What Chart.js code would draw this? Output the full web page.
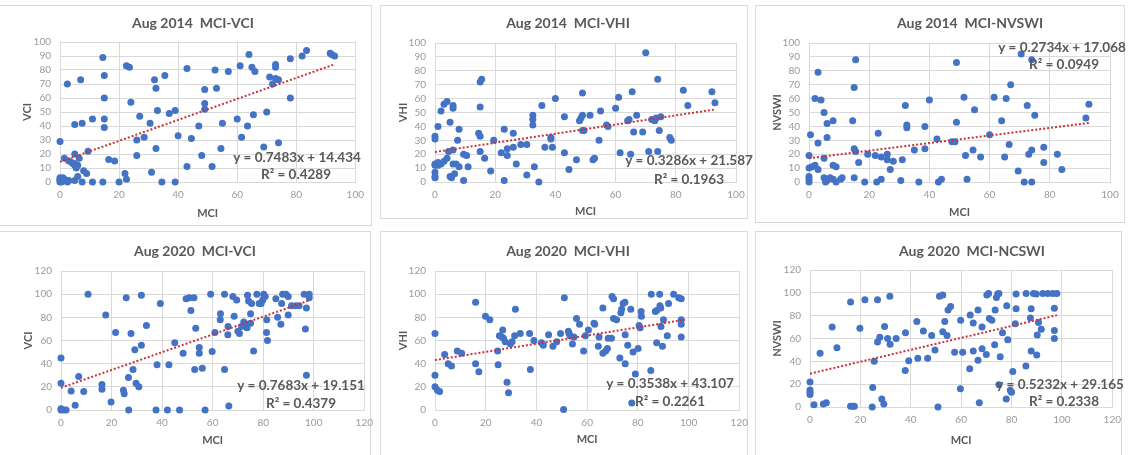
<!DOCTYPE html>
<html>
<head>
<meta charset="utf-8">
<script src="https://cdn.jsdelivr.net/npm/chart.js@4.4.1/dist/chart.umd.min.js"></script>
<style>
  body { margin: 0; background: #fff; }
  #wrap { position: relative; width: 1128px; height: 455px; overflow: hidden; background: #fff; }
  .panel { position: absolute; border: 1px solid #d9d9d9; box-sizing: border-box; }
  #wrap canvas { position: absolute; }
</style>
</head>
<body>
<div id="wrap"></div>
<script>
// MCI vs index pairs
const vci2014 = [[0,29],[0,3],[0,2],[0,1],[0,0],[0.5,0],[1,3],[1.5,2],[2,1],[2.5,0],[3,1],
  [2.5,70],[1.5,17],[3,15],[4,14],[4.5,13],[5,12],[5.5,11],[5,13],[6,12],[5.5,10],
  [5,20],[6.5,17],[5,41],[7.5,42],[7,73],[5,1],[6,4],[7.5,0],[8,8],[9,6],[9.5,22],[11,45],[11,0],
  [14.5,89],[15,45],[15,39],[15,60],[15,76],[14.5,0],[16.5,16],[18.5,15],[20,0],[22,6],[22.5,2],
  [22.5,83],[23.5,82],[24,57],[26,30],[26,19],[27,47],[28.5,32],[30.5,42],[31,7],[32,73],[32.5,67],
  [33,51],[32.5,24],[34.5,0],[35.5,76],[37,49],[39,51],[39,0],[40,33],[43,11],[43,81],[44.5,31],
  [47,40],[48,19],[49,66],[49,56],[49,52],[51.5,11],[52.5,80],[53,67],[54.5,24],[55,42],[57,79],
  [60,45],[61,83],[61.5,32],[63.5,40],[64,91],[65,82],[66,79],[65.5,48],[69,25],[70,50],[71,75],
  [72,70],[73,84],[73,82],[73,74],[74,73],[74,28],[78,88],[78,60],[82,90],[83.5,94],[91.5,92],[92,91],[93,90]];

const vhi2014 = [[0,33],[0,31],[0,13],[0,12],[0,7],[0,4],[0,3],[1,40],[1,14],[1,12],[2,13],[2,51],[3,56],[3,15],[4,17],[4,58],
  [4.5,22],[5,4],[5.5,3],[5,43],[6,23],[6,55],[6,53],[6,13],[7,13],[6.5,6],[7.5,30],[8,11],[8,38],
  [9.5,20],[9.5,1],[10.5,19],[11,11],[14.5,35],[15,33],[15,72],[15.5,74],[15,54],[15,22],[16.5,17],
  [18.5,8],[19.5,30],[22,21],[23,1],[23,38],[24,24],[24,19],[26,35],[26,25],[27,13],[28.5,27],
  [30.5,27],[30.5,5],[32.5,48],[32.5,45],[32.5,41],[33,11],[34.5,0],[35.5,55],[36.5,25],[38.5,32],[38.5,31],[39,25],
  [40,60],[43,47],[43,21],[44.5,9],[47,16],[48,44],[48.5,46],[49,48],[49,64],[49,37],[49.5,37],
  [51.5,48],[52.5,16],[53,17],[55,51],[54.5,30],[57,41],[57.5,40],[60,53],[61,61],[61.5,21],
  [64,44],[64.5,45],[65,20],[65.5,65],[66,36],[67,48],[69,36],[70,93],[71,22],[72,45],[73,44],
  [74,74],[74,22],[73.5,46],[75,47],[74.5,37],[78,32],[78.5,30],[82.5,66],[84,55],[92,65],[93,57]];

const nvswi2014 = [[0,19],[0,4],[0,2],[0,0],[0,10],[0.5,34],[1,11],[2,12],[2,60],[3,79],[3,28],[3,9],
  [4,59],[5,50],[5,3],[5,17],[6,1],[5.5,0],[6,42],[6,32],[7,3],[8,44],[8,12],[8,2],
  [9,11],[9,0],[10.5,2],[11,3],[14.5,44],[15,68],[15.5,88],[15,24],[15.5,22],[15,3],[16.5,14],
  [18.5,0],[19.5,20],[22,19],[22.5,0],[23,35],[24,18],[24,2],[26,20],[26,16],[27,9],[28,15],
  [30.5,1],[31,16],[32,55],[32.5,41],[32.5,39],[35,23],[36.5,0],[38.5,40],[38.5,24],[40,59],
  [42.5,31],[43,0],[44,2],[47.5,29],[48.5,29],[49,43],[49,86],[51.5,61],[52,19],[52.5,2],
  [54.5,23],[55,52],[57,18],[60,34],[61.5,61],[64,44],[65,18],[65.5,60],[66.5,27],[67,70],
  [69.5,8],[70.5,92],[71.5,0],[72.5,55],[73,20],[74,0],[74,23],[75,48],[74,88],[78,25],[78,14],
  [82.5,20],[84,9],[92,46],[93,56]];

const vci2020 = [[0,45],[0,23],[0,0],[1,0],[2,0],[0,1],[4,16.5],[5.6,4],[7,29],[9,16],[10.7,100],[17.7,82],[16.2,22],[16.2,18],
  [21.6,67],[19.8,7],[24.7,17],[25,14],[25.8,97],[26.7,28],[26.8,0],[27.7,66],[28.5,35],[29.2,52],[29.7,23],[30.8,20],
  [31.8,56],[31.8,99],[33.8,73],[38,39],[37.6,0],[39.3,92],[42.7,39],[42.1,0],[45,58],[46.9,0],[48.3,49],
  [49.5,96],[50.8,97],[52.6,97],[51.4,86],[52.9,35],[53.3,70.5],[54.7,54],[54.7,49],[55.9,36],
  [57,0],[59.2,100],[59.8,50.6],[60.9,67],[63,78],[63.1,83],[64.7,35],[64.7,100],[66,65],[66.1,72],[66.4,3.5],
  [68,98],[68.5,81],[69.5,95],[70,68],[70.6,66],[71.5,72],[72.3,76],[73.6,71],[73.7,74],[73.8,99],[74.2,94],
  [75,75],[75,83],[75.4,92],[76.2,51],[77.5,100],[78.4,92],[79.2,92],[79.8,95],[80.2,100],[80.8,98],
  [81.4,78],[81.3,67],[81.7,60],[85,96],[85.7,80],[87,74],[87.3,92],[87.7,100],[89,100],[89.9,98],
  [89.9,82],[91.2,90],[92.9,90],[94.2,90],[96.2,100],[96.7,70],[97.1,30],[97.1,88],[98.2,100],[98.2,97]];

const vhi2020 = [[0,66],[0,30],[0,20],[1,17],[1.8,16],[3.8,48],[5.2,40],[6.5,38],[8.8,51],[10.5,49],
  [16,93],[16,40],[17.3,33],[19.9,81],[21.6,78],[24.7,51],[24.9,39],[25.4,64],[26.4,63],[26.7,69],[27,62],
  [27.7,59],[28.4,24],[29,15],[29.7,57],[30.4,59],[31.4,64],[31.7,87],[33.6,66],[37.3,66],[37.6,35],[39,60],
  [42,58],[42.7,56],[44.8,65],[46.5,55],[48,59],[49.5,66],[51,97],[50.7,0.5],
  [52.6,68],[52.9,66],[53.3,64],[54.2,57],[54.8,63],[55.8,79],[57,74],[58.6,51],[59.3,64],[60.5,69],
  [62.7,75],[63,74],[64.4,55],[64.7,63],[66.2,88],[66.2,49],[67.3,51],[68,53],[68.3,62],[69.6,62],
  [69.8,98],[70.4,96],[70.4,79],[71.6,78],[72.9,45],[73.3,84],[73.6,87],[74.2,92],[74.9,93],
  [75,65],[75,40],[76,56],[77.2,87],[77.6,6],[78.1,50],[79,31],[80.1,53],[80.5,73],[80.9,71],[81.3,85],[81.4,81],
  [85.1,34],[85.3,100],[86.9,85],[87.4,86],[87.4,58],[88.6,100],[88.7,90],[89,88],[89.1,72],[89.7,55],[90.1,78],
  [91.6,64],[92.1,92],[94.1,100],[96.1,97],[97.1,96],[97.1,74],[97.1,78],[97.1,63]];

const nvswi2020 = [[0,22],[0,15],[0,13],[0,11],[1.6,2],[4,47],[5.3,2.6],[6.5,3.8],[8.8,70],[10.7,52],
  [16.1,92],[16.1,0.6],[17,0.6],[17.6,0.6],[19.8,69],[21.8,94],[24.9,17],[24.7,0],
  [25.5,40],[26.8,94],[26.8,57],[27.7,61],[28.5,7],[29.3,2.6],[29.6,70.5],[30.8,60],[31.8,55],[31.7,97],
  [34.2,60],[37.8,32],[37.9,65],[39.2,40.5],[42.4,75],[42.8,42.6],[45,66.5],[46.7,42.6],[48.3,62.7],
  [49.6,50],[50.8,0],[51.4,97],[52.7,98],[52.7,66],[53.5,75],[54.4,62.7],[54.8,85],[55.8,88],
  [57.4,48],[59.8,76],[60.6,48],[59.7,16],[63.4,33.5],[63.6,80.5],[64.8,73.5],[64.8,49],
  [66.7,41],[66.7,85],[67.2,3.8],[68.3,70],[68.3,51],[70,46],[70.2,98],[70.9,99.5],[71.2,77.5],[72.2,76],
  [73.5,85],[73.3,54.5],[74,96],[74.5,99],[75,99.5],[75,19.5],[75.5,44],[76.4,65],[77.9,7],[78.1,88.6],
  [78.5,59],[79.5,14.6],[80,13],[80.5,31],[81.5,73],[81.8,86],[81.8,99],
  [85.7,36],[85.8,99.4],[87.5,78],[87.8,86],[87.8,49],[88.7,99.4],[89.8,99],
  [90,45.5],[90.2,63],[90.7,74],[91.8,68],[92.4,99.4],[94.4,99.4],[96.4,99.4],[97,86.6],[97,67],[97,60],[98,99.4]];

// trendline ends as drawn (x from, x to / y from, y to)
const trendX = [[0, 92.5], [0, 93], [0, 93], [0, 98.5], [0, 98.5], [0, 98]];
const trendY = [[14.4, 83.7], [21.6, 52.2], [17.1, 42.5], [19.2, 94.8], [43.1, 77.9], [29.2, 80.4]];

const titles = ['Aug 2014  MCI-VCI', 'Aug 2014  MCI-VHI', 'Aug 2014  MCI-NVSWI',
  'Aug 2020  MCI-VCI', 'Aug 2020  MCI-VHI', 'Aug 2020  MCI-NCSWI'];
const yLabels = ['VCI', 'VHI', 'NVSWI', 'VCI', 'VHI', 'NVSWI'];
const equations = ['y = 0.7483x + 14.434', 'y = 0.3286x + 21.587', 'y = 0.2734x + 17.068',
  'y = 0.7683x + 19.151', 'y = 0.3538x + 43.107', 'y = 0.5232x + 29.165'];
const rSquared = ['R² = 0.4289', 'R² = 0.1963', 'R² = 0.0949', 'R² = 0.4379', 'R² = 0.2261', 'R² = 0.2338'];
const series = [vci2014, vhi2014, nvswi2014, vci2020, vhi2020, nvswi2020];

// page geometry: canvas box, plot area [l,t,r,b], label anchors
const layoutInfo = [
  { frame: [-1, 5, 373, 221], box: [0, 6, 371, 219], plot: [60, 42, 362, 182], yTitleX: 27, xTitleY: 213, title: [193, 23], eq: [297, 158], r2: [296, 175], max: 100, step: 10 },
  { frame: [380, 5, 368, 214], box: [381, 6, 374, 212], plot: [435, 43, 736, 182], yTitleX: 403, xTitleY: 211, title: [568, 23], eq: [689, 161], r2: [689, 180], max: 100, step: 10 },
  { frame: [755, 5, 370, 218], box: [756, 6, 372, 216], plot: [809, 43, 1110, 182], yTitleX: 777, xTitleY: 212, title: [970, 23], eq: [1062, 48], r2: [1064, 65], max: 100, step: 10 },
  { frame: [-1, 231, 372, 230], box: [0, 232, 380, 223], plot: [61, 271, 367, 410], yTitleX: 28, xTitleY: 440, title: [195, 251], eq: [301, 386], r2: [301, 404], max: 120, step: 20 },
  { frame: [380, 231, 368, 230], box: [381, 232, 374, 223], plot: [435, 271, 741, 410], yTitleX: 403, xTitleY: 439, title: [568, 251], eq: [670, 384], r2: [670, 402], max: 120, step: 20 },
  { frame: [755, 231, 367, 230], box: [756, 232, 372, 223], plot: [810, 270, 1113, 407], yTitleX: 777, xTitleY: 440, title: [972, 251], eq: [1060, 385], r2: [1064, 402], max: 120, step: 20 },
];

const BLUE = '#4472c4';
const RED = '#c8323c';
const GRID = '#d9d9d9';
const TICK = '#9a9a9a';
const TEXT = '#595959';
const FONT = 'Lato, "Open Sans", sans-serif';

Chart.defaults.font.family = FONT;

// chart title and trendline label, drawn like Excel does
const panelText = {
  id: 'panelText',
  afterDraw(chart, args, o) {
    const { ctx } = chart;
    ctx.save();
    ctx.fillStyle = TEXT;
    ctx.textAlign = 'center';
    ctx.textBaseline = 'middle';
    ctx.font = `bold 14px ${FONT}`;
    ctx.fillText(o.title, o.titleX, o.titleY);
    ctx.font = `bold 13.5px ${FONT}`;
    ctx.fillText(o.eq, o.eqX, o.eqY);
    ctx.fillText(o.r2, o.r2X, o.r2Y);
    ctx.restore();
  },
};

const wrap = document.getElementById('wrap');

layoutInfo.forEach((p, i) => {
  const [fx, fy, fw, fh] = p.frame;
  const frame = document.createElement('div');
  frame.className = 'panel';
  Object.assign(frame.style, { left: fx + 'px', top: fy + 'px', width: fw + 'px', height: fh + 'px' });
  wrap.appendChild(frame);

  const [bx, by, bw, bh] = p.box;
  const [pl, pt, pr, pb] = p.plot;
  const canvas = document.createElement('canvas');
  canvas.width = bw;
  canvas.height = bh;
  canvas.style.left = bx + 'px';
  canvas.style.top = by + 'px';
  wrap.appendChild(canvas);

  const lh = 11 * 1.2;

  new Chart(canvas, {
    type: 'scatter',
    data: {
      datasets: [
        {
          data: trendX[i].map((x, k) => ({ x, y: trendY[i][k] })),
          showLine: true,
          borderColor: RED,
          borderWidth: 2,
          borderDash: [2, 2],
          pointRadius: 0,
          order: 0,
          clip: false,
        },
        {
          data: series[i].map(([x, y]) => ({ x, y })),
          backgroundColor: BLUE,
          borderColor: BLUE,
          borderWidth: 0,
          pointRadius: 3.5,
          order: 1,
          clip: false,
        },
      ],
    },
    options: {
      responsive: false,
      animation: false,
      events: [],
      layout: { padding: { left: 0, top: pt - by, right: bx + bw - pr, bottom: 0 } },
      plugins: {
        legend: { display: false },
        tooltip: { enabled: false },
        panelText: {
          title: titles[i], titleX: p.title[0] - bx, titleY: p.title[1] - by,
          eq: equations[i], eqX: p.eq[0] - bx, eqY: p.eq[1] - by,
          r2: rSquared[i], r2X: p.r2[0] - bx, r2Y: p.r2[1] - by,
        },
      },
      scales: {
        x: {
          type: 'linear',
          min: 0,
          max: p.max,
          ticks: { stepSize: 20, padding: 7, color: TICK, font: { size: 10 }, maxRotation: 0, autoSkip: false },
          grid: { color: GRID, drawTicks: false },
          border: { color: GRID },
          title: {
            display: true, text: 'MCI', color: TEXT,
            font: { size: 11, weight: 'bold' },
            padding: { top: 0, bottom: Math.max(0, by + bh - p.xTitleY - lh / 2) },
          },
          afterFit: (s) => { s.height = by + bh - pb; },
        },
        y: {
          min: 0,
          max: p.max,
          ticks: { stepSize: p.step, padding: 9, color: TICK, font: { size: 10 }, autoSkip: false },
          grid: { color: GRID, drawTicks: false },
          border: { color: GRID },
          title: {
            display: true, text: yLabels[i], color: TEXT,
            font: { size: 11, weight: 'bold' },
            padding: { top: p.yTitleX - bx - lh / 2, bottom: 0 },
          },
          afterFit: (s) => { s.width = pl - bx; },
        },
      },
    },
    plugins: [panelText],
  });
});
</script>
</body>
</html>
